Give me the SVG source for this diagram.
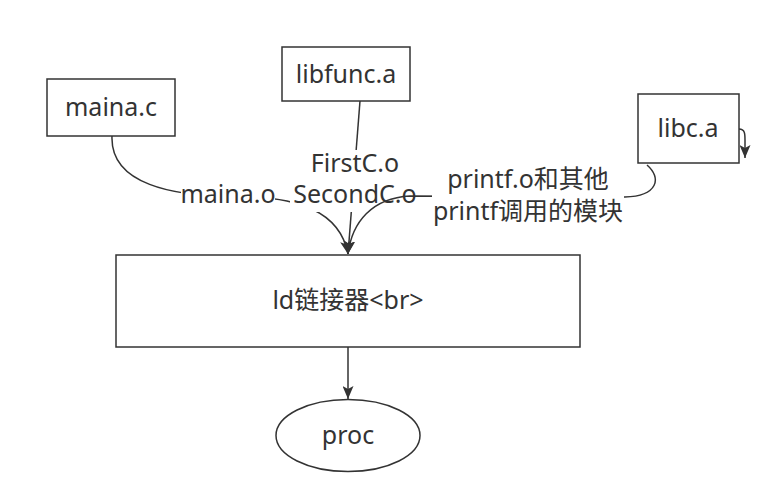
<svg xmlns="http://www.w3.org/2000/svg" width="781" height="504" viewBox="0 0 781 504">
<style>
.box{fill:#fff;stroke:#333;stroke-width:1.5}
.edge{fill:none;stroke:#333;stroke-width:1.5}
.t{font-family:"Noto Sans","Noto Sans CJK SC",sans-serif;font-size:25px;fill:#333;text-anchor:middle}
.lb{fill:#fff}
</style>
<defs>
<marker id="arr" viewBox="0 0 13 11" refX="13" refY="5.5" markerWidth="13" markerHeight="11" markerUnits="userSpaceOnUse" orient="auto">
<path d="M0,0 L13,5.5 L0,11 L3,5.5 Z" fill="#333"/>
</marker>
</defs>
<rect width="781" height="504" fill="#fff"/>
<g id="connectors">
<path class="edge" d="M112,136 C110,185 175,196 230,196 C300,196 340,212 348,254" marker-end="url(#arr)"/>
<path class="edge" d="M360,101 L348,254" marker-end="url(#arr)"/>
<rect class="lb" x="290" y="150" width="132" height="62"/>
<text class="t" x="355" y="172">FirstC.o</text>
<text class="t" x="355" y="203">SecondC.o</text>
<rect class="lb" x="181" y="183" width="94" height="26"/>
<text class="t" x="228" y="203">maina.o</text>
<path class="edge" d="M647,165 C662,178 658,196 625,197 L410,196 C372,198 352,222 348,254" marker-end="url(#arr)"/>
<rect class="lb" x="432" y="166" width="192" height="60"/>
<text class="t" x="528" y="188">printf.o和其他</text>
<text class="t" x="528" y="220">printf调用的模块</text>
<path class="edge" d="M739,129 C745,129 745,134 745,140 L745,158" marker-end="url(#arr)"/>
<path class="edge" d="M348,347 L348,399" marker-end="url(#arr)"/>
</g>
<g id="maina"><rect class="box" x="47" y="79" width="128" height="57"/><text class="t" x="111" y="116">maina.c</text></g>
<g id="libfunc"><rect class="box" x="282" y="47" width="128" height="54"/><text class="t" x="346" y="83">libfunc.a</text></g>
<g id="libc"><rect class="box" x="638" y="94" width="101" height="69"/><text class="t" x="688" y="137">libc.a</text></g>
<g id="ld"><rect class="box" x="116" y="255" width="464" height="92"/><text class="t" x="348" y="309">ld链接器&lt;br&gt;</text></g>
<g id="proc"><ellipse class="box" cx="348" cy="435.5" rx="72" ry="36"/><text class="t" x="348" y="444">proc</text></g>
</svg>
